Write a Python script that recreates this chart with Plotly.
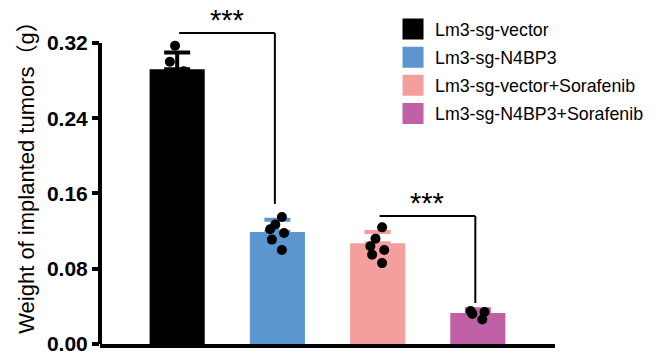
import plotly.graph_objects as go

# ---- data ----
groups = ["Lm3-sg-vector", "Lm3-sg-N4BP3", "Lm3-sg-vector+Sorafenib", "Lm3-sg-N4BP3+Sorafenib"]
means = [0.292, 0.119, 0.107, 0.033]
sds = [0.018, 0.013, 0.012, 0.004]
points = [
    [0.317, 0.300, 0.290, 0.283, 0.272],
    [0.135, 0.127, 0.122, 0.118, 0.111, 0.100],
    [0.124, 0.112, 0.104, 0.100, 0.095, 0.086],
    [0.035, 0.026, 0.032, 0.034],
]
colors = ["#000000", "#5B96D0", "#F49E9E", "#C060A6"]
y_ticks = [0.00, 0.08, 0.16, 0.24, 0.32]
y_ticktext = ["0.00", "0.08", "0.16", "0.24", "0.32"]
y_title = "Weight of implanted tumors（g）"
sig_label = "***"
# comparisons: (group a, group b, bracket height, drop-to value on b)
comparisons = [(0, 1, 0.3306, 0.149), (2, 3, 0.136, 0.0436)]

FONT = "Liberation Sans, Arial, Noto Sans CJK SC, sans-serif"

fig = go.Figure()

for i, g in enumerate(groups):
    fig.add_trace(go.Bar(
        x=[g], y=[means[i]], width=0.55,
        marker=dict(color=colors[i], line=dict(width=0)),
        error_y=dict(type="data", symmetric=False, array=[sds[i]], arrayminus=[0],
                     color=colors[i], thickness=4, width=13),
        showlegend=False,
    ))

for i, g in enumerate(groups):
    fig.add_trace(go.Box(
        x=[g] * len(points[i]), y=points[i],
        boxpoints="all", jitter=0.35, pointpos=0,
        fillcolor="rgba(0,0,0,0)", line=dict(width=0, color="rgba(0,0,0,0)"),
        marker=dict(color="black", size=10),
        showlegend=False, hoverinfo="y",
    ))

# legend entries
for i, g in enumerate(groups):
    fig.add_trace(go.Scatter(
        x=[None], y=[None], mode="markers", name=g, legendgroup=g,
        marker=dict(symbol="square", size=16, color=colors[i],
                    line=dict(width=5, color=colors[i])),
    ))

shapes = []
annotations = []
# y axis line (only up to the top tick)
shapes.append(dict(type="line", xref="paper", yref="y", x0=0, x1=0,
                   y0=y_ticks[0], y1=y_ticks[-1], line=dict(color="black", width=4)))
for a, b, h, d in comparisons:
    xa = a + 0.02
    xb = b - 0.025
    shapes.append(dict(type="line", xref="x", yref="y", x0=xa, x1=xb, y0=h, y1=h,
                       line=dict(color="black", width=2)))
    shapes.append(dict(type="line", xref="x", yref="y", x0=xb, x1=xb, y0=h, y1=d,
                       line=dict(color="black", width=2)))
    annotations.append(dict(x=(xa + xb) / 2, y=h, xref="x", yref="y", text=sig_label,
                            showarrow=False, yanchor="bottom", yshift=-5,
                            font=dict(family=FONT, size=29, color="black")))

fig.update_layout(
    width=658, height=356,
    margin=dict(l=100, r=103, t=0, b=12),
    paper_bgcolor="white", plot_bgcolor="white",
    barmode="overlay",
    showlegend=True,
    legend=dict(x=0.6396, xanchor="left", y=0.968, yanchor="top",
                font=dict(family=FONT, size=17.8, color="black"),
                bgcolor="rgba(0,0,0,0)", tracegroupgap=2, itemwidth=34),
    shapes=shapes,
    annotations=annotations,
    font=dict(family=FONT, color="black"),
)
fig.update_xaxes(
    range=[-0.77, 3.77], showline=True, linewidth=4, linecolor="black",
    showticklabels=False, ticks="", showgrid=False, zeroline=False, automargin=False,
)
fig.update_yaxes(
    range=[0, 0.3657], tickvals=y_ticks, ticktext=y_ticktext,
    ticks="outside", ticklen=7, tickwidth=3.5, tickcolor="black",
    showline=False, showgrid=False, zeroline=False, automargin=False,
    tickfont=dict(family=FONT, size=21, color="black", weight="bold"),
    title=dict(text=y_title, font=dict(family=FONT, size=22, color="black"), standoff=6),
)

fig.write_html("out.html", config={"displayModeBar": False},
               post_script="document.body.style.margin='0';")
